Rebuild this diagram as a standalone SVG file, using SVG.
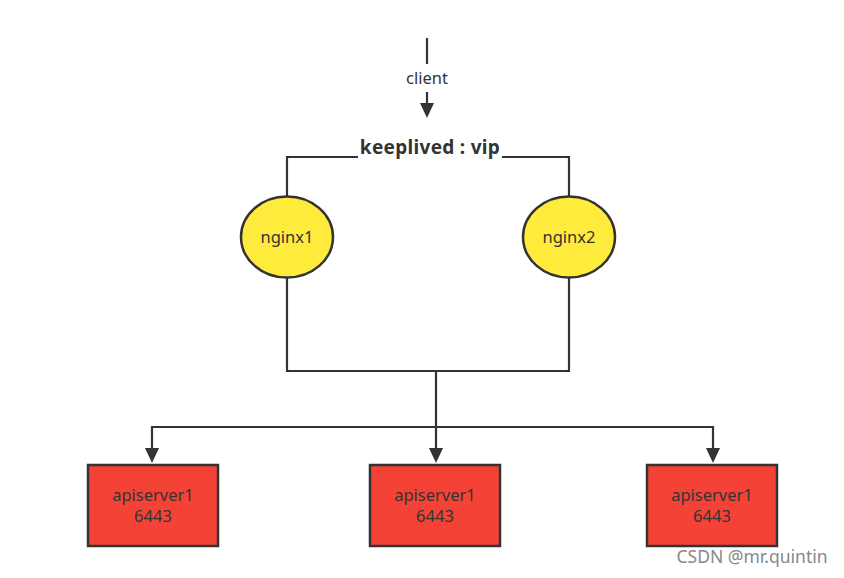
<svg xmlns="http://www.w3.org/2000/svg" width="844" height="578" viewBox="0 0 844 578">
<defs>
<style>
.ln{fill:none;stroke:#333;stroke-width:2.2}
.t{font-family:"Noto Sans","Liberation Sans",sans-serif;fill:#333;text-anchor:middle}
.ell{fill:#FFEB3B;stroke:#333;stroke-width:2.5}
.box{fill:#F44336;stroke:#333;stroke-width:2.5}
</style>
</defs>
<rect width="844" height="578" fill="#fff"/>
<g id="connectors">
<line class="ln" x1="427" y1="38" x2="427" y2="64"/>
<line class="ln" x1="427" y1="92" x2="427" y2="104"/>
<path d="M420,103 L434,103 L427,118 Z" fill="#333"/>
<polyline class="ln" points="287,196 287,157 358,157"/>
<polyline class="ln" points="502,157 569,157 569,196"/>
<polyline class="ln" points="287,278 287,371 569,371 569,278"/>
<line class="ln" x1="436" y1="371" x2="436" y2="450"/>
<polyline class="ln" points="152,450 152,427 713,427 713,450"/>
<path d="M145,448 L159,448 L152,463 Z" fill="#333"/>
<path d="M429,448 L443,448 L436,463 Z" fill="#333"/>
<path d="M706,448 L720,448 L713,463 Z" fill="#333"/>
</g>
<g id="client"><text class="t" x="427" y="84" font-size="16.5">client</text></g>
<g id="vip"><text class="t" x="430" y="154" font-size="19" font-weight="bold" letter-spacing="0.3">keeplived : vip</text></g>
<g id="nginx1"><ellipse class="ell" cx="287" cy="237" rx="46" ry="40.5"/><text class="t" x="287" y="243" font-size="16.5">nginx1</text></g>
<g id="nginx2"><ellipse class="ell" cx="569" cy="237" rx="46" ry="40.5"/><text class="t" x="569" y="243" font-size="16.5">nginx2</text></g>
<g id="api1"><rect class="box" x="88" y="465" width="130" height="81"/><text class="t" x="153" y="501" font-size="16.5">apiserver1</text><text class="t" x="153" y="522" font-size="16.5">6443</text></g>
<g id="api2"><rect class="box" x="370" y="465" width="130" height="81"/><text class="t" x="435" y="501" font-size="16.5">apiserver1</text><text class="t" x="435" y="522" font-size="16.5">6443</text></g>
<g id="api3"><rect class="box" x="647" y="465" width="130" height="81"/><text class="t" x="712" y="501" font-size="16.5">apiserver1</text><text class="t" x="712" y="522" font-size="16.5">6443</text></g>
<text x="752" y="563" font-family="Noto Sans,Liberation Sans,sans-serif" font-size="17.5" fill="#888" text-anchor="middle">CSDN @mr.quintin</text>
</svg>
